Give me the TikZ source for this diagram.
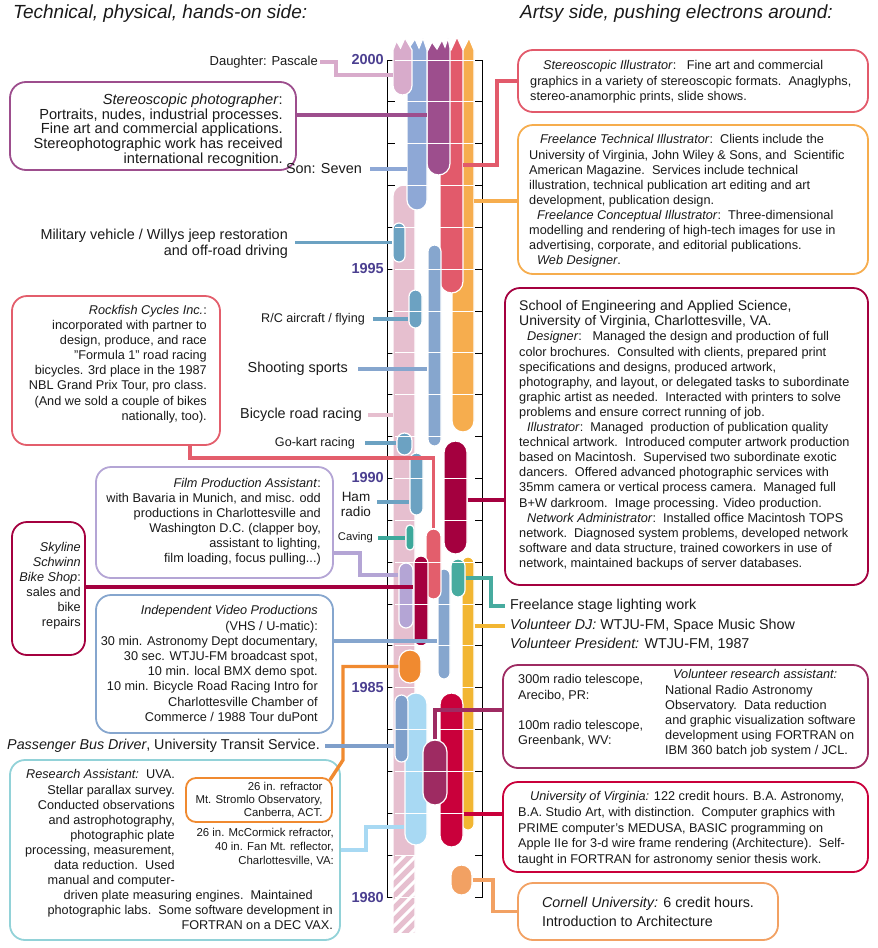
\documentclass[tikz,border=0pt]{standalone}
\usepackage{fontspec}
\setmainfont{Liberation Sans}
\definecolor{cPascale}{HTML}{D8ABCB}
\definecolor{cSon}{HTML}{8EA8D6}
\definecolor{cPhoto}{HTML}{9D4E8D}
\definecolor{cIllus}{HTML}{E25A6B}
\definecolor{cFree}{HTML}{F6AD4E}
\definecolor{cBike}{HTML}{E6BFCF}
\definecolor{cJeep}{HTML}{6CA2C2}
\definecolor{cShoot}{HTML}{86A6CE}
\definecolor{cEng}{HTML}{A4003F}
\definecolor{cRock}{HTML}{E35E6C}
\definecolor{cFilm}{HTML}{B4A5D5}
\definecolor{cVideo}{HTML}{86A6CE}
\definecolor{cStage}{HTML}{47AB9F}
\definecolor{cCave}{HTML}{3DA89B}
\definecolor{cDJ}{HTML}{F2B632}
\definecolor{cStromlo}{HTML}{F08A30}
\definecolor{cRes}{HTML}{A8D9F3}
\definecolor{cResBox}{HTML}{92D2D8}
\definecolor{cBus}{HTML}{7F9FCA}
\definecolor{cUVA}{HTML}{C9003B}
\definecolor{cRadio}{HTML}{9E2B62}
\definecolor{cCornell}{HTML}{F2A163}
\definecolor{cYear}{HTML}{4B3F90}
\definecolor{cInk}{HTML}{1A1A1A}
\begin{document}
\begin{tikzpicture}[x=1pt, y=-1pt]
  % strips, cards, leader lines and texts
  \tikzset{
    lane/.style 2 args={fill=#1, draw=white, line width=1.2pt, inner sep=0pt,
      minimum width=#2, rounded corners=#2*0.5-0.05},
    lanepath/.style={fill=#1, draw=white, line width=1.2pt},
    card/.style={draw=#1, line width=1.8pt, rounded corners=15pt, fill=white, inner sep=0pt, text=cInk},
    copy/.style={inner sep=0pt, text=cInk, font=\fontsize{12.7}{15.1}\selectfont},
    note/.style={inner sep=0pt, text=cInk, font=\fontsize{14.4}{16}\selectfont},
    tie/.style={draw=#1, line width=3.4pt},
    axis/.style={draw=black, line width=0.9pt},
    yearlab/.style={inner sep=0pt, text=cYear, font=\fontsize{14.5}{16}\selectfont\bfseries, anchor=east}
  }
  \useasboundingbox (0,0) rectangle (878,948);

  % headings
  \node[inner sep=0pt, anchor=west, text=cInk, font=\fontsize{19}{22}\selectfont\itshape] (lefthead) at (13,14) {Technical, physical, hands-on side:};
  \node[inner sep=0pt, anchor=west, text=cInk, font=\fontsize{19}{22}\selectfont\itshape] (righthead) at (520,14) {Artsy side, pushing electrons around:};

  % time axis
  \draw[axis] (395,60) -- (387,60) -- (387,897) -- (395,897);
  \draw[axis] (475,60) -- (482,60) -- (482,897) -- (475,897);
  \foreach \k in {1,...,19} {
    \draw[axis] (387,{60+41.85*\k}) -- (395,{60+41.85*\k});
    \draw[axis] (475,{60+41.85*\k}) -- (482,{60+41.85*\k});
  }
  \node[yearlab] (y2000) at (384,60) {2000};
  \node[yearlab] (y1995) at (384,269) {1995};
  \node[yearlab] (y1990) at (384,478) {1990};
  \node[yearlab] (y1985) at (384,687) {1985};
  \node[yearlab] (y1980) at (384,897) {1980};

  % bicycle racing strip, hatched before 1982
  \begin{scope}
    \clip (380,150) rectangle (430,932);
    \path[lanepath=cBike] (393,960) -- (393,196) arc (180:360:11) -- (415,960) -- cycle;
    \clip (393,856) rectangle (415,932);
    \foreach \s in {0,...,9}
      \draw[white, line width=3pt] (390,{858+12*\s}) -- ++(28,-28);
  \end{scope}
  \coordinate (bikeL) at (393,416);

  % strips still running, torn tops
  \path[lanepath=cFree] (452,421) -- (452,50) -- (463,50) -- (469,38) -- (474,50) -- (474,421) arc (0:180:11) -- cycle;
  \path[lanepath=cIllus] (440,281.5) -- (440,50) -- (451,50) -- (457,37) -- (463,50) -- (463,281.5) arc (0:180:11.5) -- cycle;
  \path[lanepath=cPhoto] (427,163.5) -- (427,52) -- (432,42) -- (437,49) -- (442,40) -- (445,47) -- (448,38) -- (450,48) -- (450,163.5) arc (0:180:11.5) -- cycle;
  \path[lanepath=cSon] (407,200) -- (407,50) -- (409,48) -- (415,39) -- (419,48) -- (423,38) -- (427,50) -- (427,200) arc (0:180:10) -- cycle;
  \path[lanepath=cPascale] (393,85.5) -- (393,50) -- (396.5,41) -- (400.5,48) -- (405,38) -- (412,50) -- (412,85.5) arc (0:180:9.5) -- cycle;
  \coordinate (pascaleL) at (393,75);
  \coordinate (sonL) at (407,169);
  \coordinate (photoL) at (427,115);
  \coordinate (illusR) at (463,165);
  \coordinate (freeR) at (474,201);

  % finished strips
  \node[lane={cJeep}{12}, minimum height=39] (military) at (399,242.5) {};
  \node[lane={cJeep}{13}, minimum height=38] (rc) at (415.5,309) {};
  \node[lane={cShoot}{13}, minimum height=201] (shoot) at (434.5,345.5) {};
  \node[lane={cJeep}{15}, minimum height=22] (kart) at (404.5,444) {};
  \node[lane={cEng}{23}, minimum height=113] (eng) at (455.5,497.5) {};
  \node[lane={cJeep}{13}, minimum height=62] (ham) at (416.5,484) {};
  \node[lane={cCave}{8}, minimum height=25] (cave) at (410,537.5) {};
  \node[lane={cVideo}{12}, minimum height=110] (videobar) at (444,624) {};
  \node[lane={cRock}{15}, minimum height=70] (rockbar) at (433.5,564) {};
  \node[lane={cEng}{14}, minimum height=90] (skybar) at (421,601) {};
  \node[lane={cFilm}{14}, minimum height=65] (filmbar) at (406,595.5) {};
  \node[lane={cDJ}{12}, minimum height=273] (dj) at (468,693.5) {};
  \node[lane={cStage}{14}, minimum height=38] (stage) at (458,578) {};
  \node[lane={cStromlo}{22}, minimum height=33] (stromlobar) at (410,666.5) {};
  \node[lane={cRes}{22}, minimum height=152] (resbar) at (416,769) {};
  \node[lane={cBus}{13}, minimum height=67] (bus) at (401.5,728.5) {};
  \node[lane={cUVA}{23}, minimum height=154] (uvabar) at (451.5,770) {};
  \node[lane={cRadio}{24}, minimum height=65] (radiobar) at (435,772.5) {};
  \node[lane={cCornell}{21}, minimum height=30] (cornellbar) at (461.5,880) {};

  % year lines across the strips
  \foreach \k in {0,...,20}
    \draw[white, line width=1pt] (395,{60+41.85*\k}) -- (475,{60+41.85*\k});

  % left cards
  \node[card=cPhoto, rounded corners=16pt, minimum width=286, minimum height=88] (photo) at (153,126) {};
  \node[copy, font=\fontsize{14.6}{14.8}\selectfont, align=right, anchor=north east] (phototxt) at (283,93.5) {\textit{Stereoscopic photographer}:\\Portraits, nudes, industrial processes.\\Fine art and commercial applications.\\Stereophotographic work has received\\international recognition.};
  \node[card=cRock, minimum width=208, minimum height=149] (rockbox) at (116,370.5) {};
  \node[copy, align=right, anchor=north east] (rocktxt) at (207,305) {\textit{Rockfish Cycles Inc.}:\\incorporated with partner to\\design, produce, and race\\"Formula 1" road racing\\bicycles. 3rd place in the 1987\\NBL Grand Prix Tour, pro class.\\(And we sold a couple of bikes\\nationally, too).};
  \node[card=cFilm, minimum width=237, minimum height=111] (filmbox) at (214.5,522.5) {};
  \node[copy, align=right, anchor=north east] (filmtxt) at (321,478) {\textit{Film Production Assistant}:\\with Bavaria in Munich, and misc. odd\\productions in Charlottesville and\\Washington D.C. (clapper boy,\\assistant to lighting,\\film loading, focus pulling...)};
  \node[card=cEng, minimum width=73, minimum height=133] (skybox) at (48.5,588.5) {};
  \node[copy, align=right, anchor=north east] (skytxt) at (81,542) {\textit{Skyline}\\\textit{Schwinn}\\\textit{Bike Shop}:\\sales and\\bike\\repairs};
  \node[card=cVideo, minimum width=237, minimum height=138] (videobox) at (214.5,664) {};
  \node[copy, font=\fontsize{12.7}{15.2}\selectfont, align=right, anchor=north east] (videotxt) at (318,605.5) {\textit{Independent Video Productions}\\(VHS / U-matic):\hspace*{18pt}\\30 min. Astronomy Dept documentary,\\30 sec. WTJU-FM broadcast spot,\\10 min. local BMX demo spot.\\10 min. Bicycle Road Racing Intro for\\Charlottesville Chamber of\\Commerce / 1988 Tour duPont};
  \node[card=cResBox, minimum width=330, minimum height=180] (resbox) at (175,850) {};
  \node[copy, align=right, anchor=north east] (restxt) at (175,769.5) {\textit{Research Assistant:}\ \ UVA.\\Stellar parallax survey.\\Conducted observations\\and astrophotography,\\photographic plate\\processing, measurement,\\data reduction.\ \ Used\\manual and computer-};
  \node[copy, align=right, anchor=north east] (restail) at (333,890) {driven plate measuring engines.\ \ Maintained\hspace*{20pt}\\photographic labs.\ \ Some software development in\\FORTRAN on a DEC VAX.};
  \node[card=cStromlo, rounded corners=10pt, minimum width=146, minimum height=44, align=right, font=\fontsize{11.4}{12.7}\selectfont] (stromlobox) at (259,800) {26 in. refractor\\Mt. Stromlo Observatory,\\Canberra, ACT.};
  \node[copy, font=\fontsize{11.4}{14}\selectfont, align=right, anchor=north east] (mccnote) at (334,828) {26 in. McCormick refractor,\\40 in. Fan Mt. reflector,\\Charlottesville, VA:};

  % right cards
  \node[card=cIllus, minimum width=350, minimum height=62] (illus) at (693,81) {};
  \node[copy, font=\fontsize{12.7}{15.5}\selectfont, align=left, anchor=north west] (illustxt) at (530,60.5) {\hspace*{13pt}\textit{Stereoscopic Illustrator}:\ \ \ Fine art and commercial\\graphics in a variety of stereoscopic formats.\ \ Anaglyphs,\\stereo-anamorphic prints, slide shows.};
  \node[card=cFree, minimum width=350, minimum height=149] (free) at (693,199.5) {};
  \node[copy, align=left, anchor=north west] (freetxt) at (529,134.5) {\hspace*{11pt}\textit{Freelance Technical Illustrator}:\ \ Clients include the\\University of Virginia, John Wiley \& Sons, and\ \ Scientific\\American Magazine.\ \ Services include technical\\illustration, technical publication art editing and art\\development, publication design.\\\hspace*{8pt}\textit{Freelance Conceptual Illustrator}:\ \ Three-dimensional\\modelling and rendering of high-tech images for use in\\advertising, corporate, and editorial publications.\\\hspace*{8pt}\textit{Web Designer}.};
  \node[card=cEng, minimum width=363, minimum height=297] (school) at (686.5,436.5) {};
  \node[copy, font=\fontsize{14}{14.8}\selectfont, align=left, anchor=north west] (schoolhead) at (519,300) {School of Engineering and Applied Science,\\University of Virginia, Charlottesville, VA.};
  \node[copy, align=left, anchor=north west] (schooltxt) at (519,331.5) {\hspace*{8pt}\textit{Designer}:\ \ \ Managed the design and production of full\\color brochures.\ \ Consulted with clients, prepared print\\specifications and designs, produced artwork,\\photography, and layout, or delegated tasks to subordinate\\graphic artist as needed.\ \ Interacted with printers to solve\\problems and ensure correct running of job.\\\hspace*{8pt}\textit{Illustrator}:\ \ Managed\ \ production of publication quality\\technical artwork.\ \ Introduced computer artwork production\\based on Macintosh.\ \ Supervised two subordinate exotic\\dancers.\ \ Offered advanced photographic services with\\35mm camera or vertical process camera.\ \ Managed full\\B+W darkroom.\ \ Image processing. Video production.\\\hspace*{8pt}\textit{Network Administrator}:\ \ Installed office Macintosh TOPS\\network.\ \ Diagnosed system problems, developed network\\software and data structure, trained coworkers in use of\\network, maintained backups of server databases.};
  \node[card=cRadio, minimum width=365, minimum height=103] (radio) at (685.5,716.5) {};
  \node[copy, align=left, anchor=north west] (radioleft) at (518,674.5) {300m radio telescope,\\Arecibo, PR:\\[15.1pt]100m radio telescope,\\Greenbank, WV:};
  \node[copy, align=left, anchor=north west] (radioright) at (665,669.5) {\hspace*{8pt}\textit{Volunteer research assistant:}\\National Radio Astronomy\\Observatory.\ \ Data reduction\\and graphic visualization software\\development using FORTRAN on\\IBM 360 batch job system / JCL.};
  \node[card=cUVA, minimum width=365, minimum height=90] (uva) at (685.5,827) {};
  \node[copy, font=\fontsize{12.7}{15.6}\selectfont, align=left, anchor=north west] (uvatxt) at (518,791.5) {\hspace*{12pt}\textit{University of Virginia:} 122 credit hours. B.A. Astronomy,\\B.A. Studio Art, with distinction.\ \ Computer graphics with\\PRIME computer's MEDUSA, BASIC programming on\\Apple IIe for 3-d wire frame rendering (Architecture).\ \ Self-\\taught in FORTRAN for astronomy senior thesis work.};
  \node[card=cCornell, minimum width=260, minimum height=57, align=left, font=\fontsize{14.3}{19}\selectfont] (cornell) at (648,911.5) {\textit{Cornell University:} 6 credit hours.\\Introduction to Architecture};

  % loose labels
  \node[note, font=\fontsize{13}{15}\selectfont, anchor=east] (pascale) at (318,62) {Daughter: Pascale};
  \node[note, anchor=east] (son) at (362,169) {Son: Seven};
  \node[note, align=right, anchor=east] (jeep) at (288,244) {Military vehicle / Willys jeep restoration\\and off-road driving};
  \node[note, font=\fontsize{12.6}{15}\selectfont, anchor=east] (rcnote) at (365,319) {R/C aircraft / flying};
  \node[note, anchor=east] (shootnote) at (348,369) {Shooting sports};
  \node[note, anchor=east] (bikenote) at (362,415) {Bicycle road racing};
  \node[note, font=\fontsize{12.6}{15}\selectfont, anchor=east] (kartnote) at (355,443) {Go-kart racing};
  \node[note, font=\fontsize{13.5}{15}\selectfont, align=center] (hamnote) at (356,504.5) {Ham\\radio};
  \node[note, font=\fontsize{11.2}{13}\selectfont, anchor=east] (cavenote) at (373,538) {Caving};
  \node[note, font=\fontsize{14.3}{16}\selectfont, anchor=east] (busnote) at (320,746) {\textit{Passenger Bus Driver}, University Transit Service.};
  \node[note, font=\fontsize{14.3}{16}\selectfont, anchor=west] (stagenote) at (510,606) {Freelance stage lighting work};
  \node[note, font=\fontsize{14.3}{16}\selectfont, anchor=west] (djnote) at (510,626) {\textit{Volunteer DJ:} WTJU-FM, Space Music Show};
  \node[note, font=\fontsize{14.3}{16}\selectfont, anchor=west] (presnote) at (510,644) {\textit{Volunteer President:} WTJU-FM, 1987};

  % leader lines
  \draw[tie=cPascale] ([xshift=2pt]pascale.east) -| (336,75) -- (pascaleL);
  \draw[tie=cPhoto] (photo.east |- photoL) -- (photoL);
  \draw[tie=cSon] ([xshift=8pt]son.east) -- (sonL);
  \draw[tie=cIllus] (illusR) -| (497,81) -- (illus.west);
  \draw[tie=cFree] (freeR) -- (freeR -| free.west);
  \draw[tie=cJeep] ([xshift=7pt]jeep.east |- military.west) -- (military.west);
  \draw[tie=cJeep] ([xshift=8pt]rcnote.east) -- (rcnote.east -| rc.west);
  \draw[tie=cShoot] ([xshift=10pt]shootnote.east) -- (shootnote.east -| shoot.west);
  \draw[tie=cBike] ([xshift=6pt]bikenote.east) -- (bikenote.east -| bikeL);
  \draw[tie=cJeep] ([xshift=10pt]kartnote.east) -- (kartnote.east -| kart.west);
  \draw[tie=cEng] (eng.east |- 0,500) -- (school.west |- 0,500);
  \draw[tie=cJeep] ([xshift=6pt]hamnote.east |- 0,502) -- (ham.west |- 0,502);
  \draw[tie=cCave] ([xshift=5pt]cavenote.east) -- (cavenote.east -| cave.west);
  \draw[tie=cRock] ([xshift=74pt]rockbox.south) |- (rockbar.north |- 0,458) -- (rockbar.north);
  \draw[tie=cFilm] (filmbox.east |- 0,553) -| (360,575) -- (filmbar.west |- 0,575);
  \draw[tie=cEng] (skybox.east |- 0,587) -- (skybar.west |- 0,587);
  \draw[tie=cVideo] (videobox.east |- 0,641) -- (videobar.west |- 0,641);
  \draw[tie=cStage] (stage.east) -| (491,606) -- ([xshift=-5pt]stagenote.west);
  \draw[tie=cDJ] (dj.east |- djnote.west) -- ([xshift=-5pt]djnote.west);
  \draw[tie=cStromlo] (stromlobar.west) -- (343,666.5) -- (343,760) -- ([shift={(-3pt,-3pt)}]stromlobox.north east);
  \draw[tie=cBus] ([xshift=5pt]busnote.east) -- (busnote.east -| bus.west);
  \draw[tie=cRes] (resbar.west |- 0,827) -| (366,850) -- (resbox.east);
  \draw[tie=cUVA] (uvabar.east |- 0,814) -- (uva.west |- 0,814);
  \draw[tie=cRadio] (radiobar.north) |- (radio.west |- 0,710);
  \draw[tie=cCornell] (cornellbar.east) -| (493,911.5) -- (cornell.west);
\end{tikzpicture}
\end{document}
